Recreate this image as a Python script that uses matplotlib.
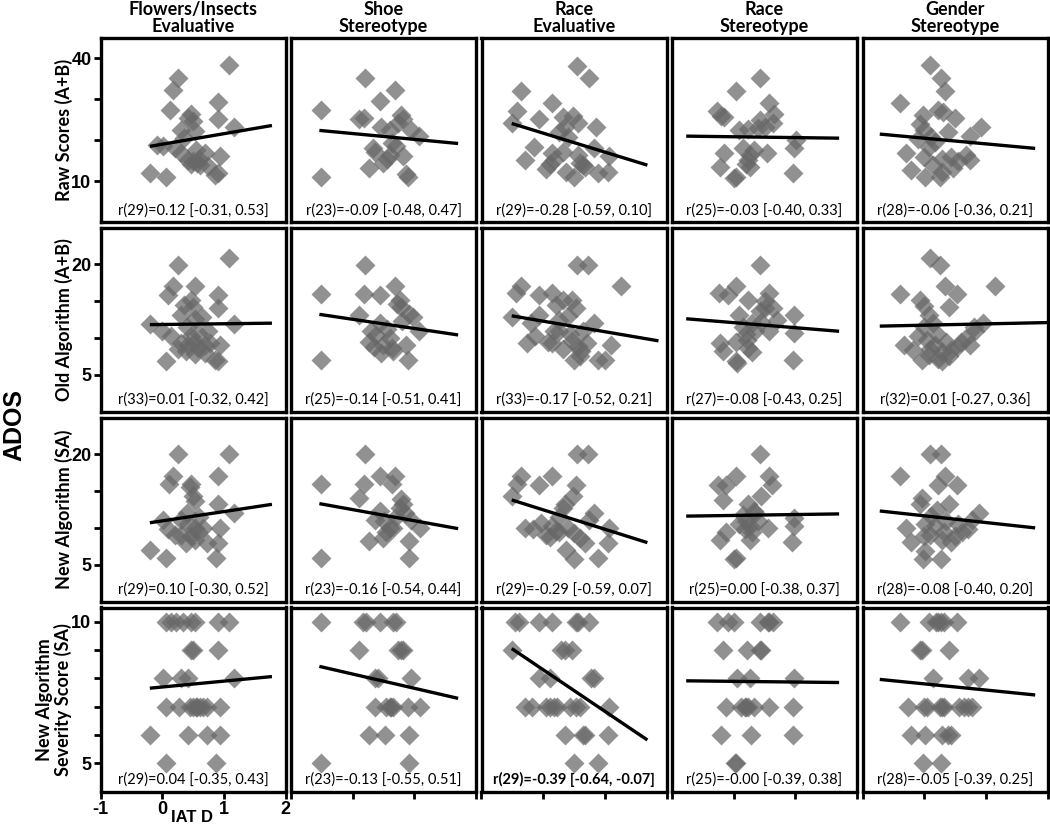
import matplotlib
matplotlib.use("Agg")
import matplotlib.pyplot as plt

plt.rcParams["axes.unicode_minus"] = False

# ── labels ──────────────────────────────────────────────────────────────────
COLS = ["Flowers/Insects\nEvaluative", "Shoe\nStereotype", "Race\nEvaluative",
        "Race\nStereotype", "Gender\nStereotype"]
ROWS = ["Raw Scores (A+B)", "Old Algorithm (A+B)", "New Algorithm (SA)",
        "New Algorithm\nSeverity Score (SA)"]

STATS = [
    ["r(29)=0.12 [-0.31, 0.53]", "r(23)=-0.09 [-0.48, 0.47]", "r(29)=-0.28 [-0.59, 0.10]",
     "r(25)=-0.03 [-0.40, 0.33]", "r(28)=-0.06 [-0.36, 0.21]"],
    ["r(33)=0.01 [-0.32, 0.42]", "r(25)=-0.14 [-0.51, 0.41]", "r(33)=-0.17 [-0.52, 0.21]",
     "r(27)=-0.08 [-0.43, 0.25]", "r(32)=0.01 [-0.27, 0.36]"],
    ["r(29)=0.10 [-0.30, 0.52]", "r(23)=-0.16 [-0.54, 0.44]", "r(29)=-0.29 [-0.59, 0.07]",
     "r(25)=0.00 [-0.38, 0.37]", "r(28)=-0.08 [-0.40, 0.20]"],
    ["r(29)=0.04 [-0.35, 0.43]", "r(23)=-0.13 [-0.55, 0.51]", "r(29)=-0.39 [-0.64, -0.07]",
     "r(25)=-0.00 [-0.39, 0.38]", "r(28)=-0.05 [-0.39, 0.25]"],
]
SIGNIF = [(3, 2)]  # bold stat label

Y_LIMS = [(0, 45), (0, 25), (0, 25), (4, 10.5)]
Y_TICKS = [[10, 20, 30, 40], [5, 10, 15, 20], [5, 10, 15, 20], [5, 6, 7, 8, 9, 10]]
Y_TICKLABELS = [["10", "", "", "40"], ["5", "", "", "20"], ["5", "", "", "20"],
                ["5", "", "", "", "", "10"]]
X_TICKS = [-1, 0, 1, 2]

# ── data: IAT D (x) vs ADOS score (y), one list per task ────────────────────
RAW_X = [
    [1.09, 0.26, 0.18, 0.13, 0.91, 0.47, 0.50, 0.42, 0.91, 1.17, 0.31, 0.53, 0.01, -0.09, 0.20, 0.31,
     0.69, 0.93, 0.42, 0.50, 0.60, 0.47, 0.57, 0.75, -0.20, 0.07, 0.85, 0.90, 0.55, 0.62, 0.35],
    [-0.51, -0.52, 0.20, 0.69, 0.44, 0.18, 0.11, 0.46, 0.78, 0.73, 0.82, 0.95, 1.08, 0.60, 0.33, 0.37,
     0.63, 0.60, 0.82, 0.49, 0.27, 0.87, 0.90, 0.71, 0.55],
    [0.55, 0.74, -0.36, 0.15, -0.42, -0.51, -0.07, 0.32, 0.49, 0.56, 0.86, 0.35, 0.26, 0.41, -0.15, -0.29,
     0.14, 0.17, 0.11, 0.32, 0.56, 0.59, 0.65, 0.83, 1.07, 0.37, 0.50, 0.89, 1.05, 0.68, 0.04],
    [0.43, 0.04, 0.58, -0.27, -0.15, 0.42, 0.63, 0.51, 0.24, 0.09, 1.01, 0.98, 0.15, 0.27, 0.24, 0.54,
     -0.15, -0.22, 0.27, 0.03, 0.00, 0.97, 0.39, -0.21, 0.33, 0.20, 0.66],
    [0.10, 0.27, 0.33, -0.40, -0.02, 0.23, 0.50, 0.92, -0.06, -0.01, 0.11, 0.38, 0.74, -0.30, 0.08, -0.01,
     0.29, 0.44, 0.68, 0.74, -0.21, 0.02, 0.29, 0.26, 0.47, 0.14, 0.55, 0.17, -0.10, 0.30],
]
RAW_Y = [
    [38.4, 35.3, 32.3, 27.4, 29.3, 26.3, 24.7, 25.5, 25.2, 23.3, 22.6, 22.2, 18.5, 18.8, 18.0, 16.9,
     16.9, 16.2, 15.2, 15.0, 15.3, 14.3, 14.5, 13.6, 12.1, 11.1, 11.6, 12.0, 17.5, 13.9, 20.5],
    [27.3, 11.1, 35.3, 32.3, 29.6, 25.5, 25.1, 23.2, 26.1, 24.3, 25.1, 22.6, 21.1, 22.6, 18.1, 17.0,
     19.3, 16.5, 16.1, 14.4, 13.2, 11.8, 11.1, 18.5, 15.5],
    [38.2, 35.2, 32.1, 29.2, 27.2, 24.1, 25.1, 25.6, 25.9, 24.1, 23.2, 23.3, 22.1, 20.9, 18.3, 15.1,
     16.8, 15.1, 14.3, 17.2, 16.4, 14.5, 13.9, 18.0, 16.1, 12.3, 11.0, 11.9, 12.3, 13.5, 13.0],
    [35.2, 32.1, 29.2, 27.2, 25.6, 25.0, 24.3, 23.3, 22.7, 22.5, 20.1, 18.0, 18.0, 16.4, 15.1, 16.8,
     16.8, 13.5, 13.5, 11.1, 10.7, 12.0, 22.9, 26.0, 17.5, 14.3, 26.4],
    [38.5, 35.2, 32.1, 29.2, 26.2, 27.4, 25.4, 23.3, 24.0, 22.5, 20.9, 22.1, 21.0, 16.9, 18.4, 15.9,
     15.5, 15.9, 16.4, 15.1, 12.7, 11.1, 12.3, 11.1, 13.1, 14.0, 15.0, 19.5, 20.2, 27.0],
]

OLD_X = [
    [1.09, 0.26, 0.18, 0.09, 0.53, 0.47, 0.50, 0.91, 0.90, -0.20, -0.01, 0.31, 0.53, 0.64, 1.17, 0.15,
     0.31, 0.42, 0.53, 0.58, 0.69, 0.77, 0.93, 0.39, 0.53, 0.69, 0.07, 0.85, 0.91, 0.47, 0.40, 0.25,
     0.60, 0.35, 0.75],
    [0.20, -0.51, -0.52, 0.18, 0.44, 0.69, 0.76, 0.79, 0.92, 0.98, 1.08, 0.11, 0.44, 0.30, 0.38, 0.60,
     0.49, 0.63, 0.27, 0.87, 0.46, 0.90, 0.65, 0.72, 0.55, 0.80, 0.35],
    [0.55, 0.73, -0.36, -0.44, -0.07, 0.15, 0.32, 0.47, 0.53, 1.26, -0.51, -0.07, -0.27, -0.13, 0.17, 0.14,
     0.26, 0.43, 0.47, 0.56, 0.62, 0.71, 0.83, 1.10, 0.50, 0.89, 1.01, 0.32, 0.08, 0.25, 0.40, 0.65,
     -0.20, 0.60, 0.20],
    [0.43, 0.04, -0.24, -0.09, 0.57, 0.24, 0.51, 0.42, 0.64, 0.98, 0.09, 0.30, 0.45, 0.57, 0.98, -0.22,
     0.03, 0.21, 0.24, 0.30, -0.18, 0.03, 0.97, 0.06, 0.35, 0.15, 0.70, 0.20, 0.50],
    [0.10, 0.26, -0.40, 1.15, 0.33, 0.53, -0.06, 0.00, 0.08, 0.41, 0.95, 0.83, 0.68, -0.33, -0.10, 0.05,
     0.17, 0.29, 0.44, 0.53, 0.74, -0.04, 0.29, -0.18, 0.23, 0.08, 0.00, 0.15, 0.60, 0.35, 0.20, 0.40,
     0.80, 0.10],
]
OLD_Y = [
    [20.8, 19.9, 17.0, 15.8, 17.0, 15.1, 14.2, 15.8, 14.0, 11.9, 10.9, 13.1, 12.6, 12.8, 11.9, 10.2,
     9.3, 9.1, 9.5, 8.6, 9.1, 9.3, 9.0, 8.2, 7.8, 8.0, 6.8, 7.0, 6.8, 10.2, 11.5, 8.5,
     10.5, 14.5, 11.0],
    [19.9, 15.9, 7.0, 15.9, 15.8, 17.0, 15.1, 14.2, 13.3, 12.9, 10.9, 13.1, 12.0, 10.9, 10.4, 10.0,
     9.1, 8.6, 9.5, 9.0, 7.9, 7.0, 8.2, 14.6, 11.2, 12.3, 8.7],
    [19.9, 19.9, 17.0, 16.1, 15.8, 16.1, 15.2, 15.2, 14.0, 17.0, 12.9, 13.1, 9.3, 10.2, 10.9, 9.3,
     10.9, 10.5, 9.6, 8.9, 8.2, 9.3, 12.0, 9.0, 7.0, 7.0, 7.0, 8.5, 9.5, 12.5, 13.0, 11.0,
     12.0, 7.5, 14.5],
    [19.9, 17.0, 16.1, 15.8, 16.1, 15.2, 14.0, 13.6, 14.0, 13.1, 13.1, 12.0, 12.2, 10.9, 10.6, 9.3,
     9.5, 9.7, 8.6, 8.1, 8.2, 6.8, 7.0, 6.6, 11.0, 11.5, 12.5, 10.5, 15.0],
    [20.8, 19.9, 15.9, 17.0, 17.0, 15.9, 15.2, 14.3, 13.1, 14.2, 12.0, 10.9, 10.0, 9.0, 10.2, 9.7,
     9.0, 8.1, 8.3, 8.7, 9.0, 7.0, 6.8, 8.3, 7.2, 7.7, 11.5, 12.0, 9.5, 9.5, 10.5, 7.5,
     11.5, 8.5],
]

NEW_X = [
    [0.26, 1.09, 0.18, 0.11, 0.47, 0.91, 0.50, 0.53, 0.91, 1.17, 0.01, 0.09, 0.31, 0.42, 0.53, 0.58,
     0.66, 0.31, 0.47, 0.53, 0.72, 0.93, 0.91, -0.20, 0.07, 0.88, 0.39, 0.40, 0.60, 0.20, 0.45],
    [0.20, -0.51, -0.52, 0.44, 0.69, 0.64, 0.18, 0.11, 0.79, 0.82, 0.76, 0.44, 0.36, 0.95, 1.09, 0.60,
     0.54, 0.65, 0.49, 0.27, 0.92, 0.91, 0.70, 0.50, 0.85],
    [0.55, 0.73, -0.36, -0.42, 0.15, -0.07, 0.54, -0.51, 0.48, 0.35, 0.32, 0.83, 0.74, -0.29, -0.17, -0.04,
     0.14, 0.20, 0.11, 0.26, 0.50, 0.59, 0.68, 1.07, 1.05, 0.37, 0.50, 0.89, 0.25, 0.40, 0.05],
    [0.43, 0.04, 0.57, 0.62, -0.26, -0.12, -0.18, 0.45, 0.24, 0.33, 0.15, 0.98, 0.98, 0.09, 0.18, 0.27,
     0.55, -0.12, -0.22, 0.30, 0.27, 0.95, 0.03, 0.00, 0.35, 0.40, 0.20],
    [0.10, 0.27, -0.40, 0.33, 0.53, 0.23, -0.04, -0.07, 0.41, 0.89, 0.77, 0.11, 0.02, -0.30, 0.17, 0.32,
     0.50, 0.62, 0.71, -0.21, 0.00, 0.29, 0.44, 0.01, -0.02, 0.27, 0.20, 0.55, 0.10, 0.35],
]
NEW_Y = [
    [20.0, 20.0, 17.0, 15.9, 16.0, 17.0, 14.3, 13.6, 13.2, 12.0, 11.1, 9.9, 11.1, 10.5, 10.0, 9.5,
     10.0, 9.1, 8.9, 8.4, 8.0, 10.0, 8.0, 7.0, 5.9, 5.9, 8.0, 12.0, 11.5, 9.0, 15.5],
    [20.0, 16.0, 5.9, 17.0, 17.0, 15.9, 15.9, 14.1, 13.9, 13.2, 12.7, 12.3, 11.1, 11.1, 10.0, 10.0,
     9.5, 10.0, 8.6, 8.2, 8.2, 5.9, 11.5, 11.0, 12.0],
    [20.0, 20.0, 17.0, 16.0, 17.0, 15.8, 15.8, 14.3, 14.3, 13.2, 12.7, 12.0, 11.1, 10.0, 9.8, 10.7,
     10.2, 9.6, 8.8, 9.5, 9.3, 8.6, 8.0, 10.0, 8.0, 7.0, 5.8, 5.9, 11.5, 10.0, 9.0],
    [20.0, 17.0, 17.0, 15.8, 15.8, 15.8, 13.8, 14.3, 13.2, 12.3, 11.8, 11.4, 10.2, 10.5, 9.8, 10.3,
     10.0, 9.4, 8.3, 9.4, 8.3, 8.1, 5.9, 5.8, 12.0, 11.0, 11.0],
    [20.0, 20.0, 17.0, 17.0, 15.8, 15.8, 14.0, 13.2, 13.2, 12.0, 11.1, 11.6, 10.5, 10.0, 10.2, 9.5,
     8.9, 9.4, 9.9, 8.1, 8.9, 8.3, 8.1, 6.8, 5.8, 5.8, 12.5, 10.5, 9.0, 11.0],
]

SEV_X = [
    [0.07, 0.15, 0.23, 0.34, 0.47, 0.53, 0.91, 1.09, 0.47, 0.50, 0.91, 0.01, 0.31, 0.42, 1.17,
     0.07, 0.28, 0.45, 0.50, 0.55, 0.56, 0.61, 0.66, 0.72, 0.93, -0.20, 0.42, 0.72, 0.93, 0.07, 0.88],
    [-0.52, 0.17, 0.22, 0.44, 0.65, 0.71, 0.11, 0.73, 0.79, 0.82, 0.36, 0.41, 0.95,
     0.36, 0.54, 0.60, 0.62, 0.65, 0.90, 1.09, 0.27, 0.52, 0.92, -0.52, 0.91],
    [-0.45, -0.39, -0.07, 0.15, 0.53, 0.57, 0.74, -0.51, 0.29, 0.35, 0.47, -0.07, 0.11, 0.77, 0.83,
     -0.30, -0.18, 0.05, 0.11, 0.17, 0.23, 0.44, 0.53, 0.59, 1.07, 0.35, 0.65, 0.68, 1.05, 0.50, 0.89],
    [-0.27, -0.09, 0.00, 0.42, 0.55, 0.57, 0.63, -0.18, 0.21, 0.43, 0.44, 0.06, 0.27, 0.98,
     -0.12, 0.12, 0.18, 0.20, 0.24, 0.33, 0.57, 0.97, -0.21, 0.28, 0.96, 0.02, 0.04],
    [-0.40, 0.08, 0.19, 0.23, 0.27, 0.32, 0.53, -0.07, -0.04, 0.41, 0.14, 0.71, 0.89,
     -0.27, -0.01, 0.05, 0.25, 0.29, 0.32, 0.56, 0.65, 0.71, 0.77, -0.21, 0.02, 0.29, 0.38, 0.44,
     -0.02, 0.27],
]
SEV_Y = [
    [10, 10, 10, 10, 10, 10, 10, 10, 9, 9, 9, 8, 8, 8, 8,
     7, 7, 7, 7, 7, 7, 7, 7, 7, 7, 6, 6, 6, 6, 5, 5],
    [10, 10, 10, 10, 10, 10, 9, 9, 9, 9, 8, 8, 8,
     7, 7, 7, 7, 7, 7, 7, 6, 6, 6, 5, 5],
    [10, 10, 10, 10, 10, 10, 10, 9, 9, 9, 9, 8, 8, 8, 8,
     7, 7, 7, 7, 7, 7, 7, 7, 7, 7, 6, 6, 6, 6, 5, 5],
    [10, 10, 10, 10, 10, 10, 10, 9, 9, 9, 9, 8, 8, 8,
     7, 7, 7, 7, 7, 7, 7, 7, 6, 6, 6, 5, 5],
    [10, 10, 10, 10, 10, 10, 10, 9, 9, 9, 8, 8, 8,
     7, 7, 7, 7, 7, 7, 7, 7, 7, 7, 6, 6, 6, 6, 6,
     5, 5],
]

# fitted regression line ends per task: (x0, y0, x1, y1)
RAW_FIT = [(-0.20, 18.5, 1.78, 23.6), (-0.54, 22.4, 1.71, 19.2), (-0.51, 24.1, 1.69, 13.9),
           (-0.77, 21.0, 1.71, 20.5), (-0.72, 21.5, 1.80, 18.0)]
OLD_FIT = [(-0.20, 11.8, 1.78, 12.0), (-0.54, 13.2, 1.71, 10.4), (-0.51, 13.0, 1.87, 9.6),
           (-0.77, 12.6, 1.71, 10.9), (-0.72, 11.6, 2.10, 12.1)]
NEW_FIT = [(-0.20, 10.7, 1.78, 13.2), (-0.54, 13.3, 1.71, 9.9), (-0.51, 13.8, 1.69, 8.0),
           (-0.77, 11.6, 1.71, 11.9), (-0.72, 12.3, 1.80, 10.0)]
SEV_FIT = [(-0.20, 7.65, 1.78, 8.06), (-0.54, 8.42, 1.71, 7.29), (-0.51, 9.05, 1.69, 5.82),
           (-0.77, 7.91, 1.71, 7.85), (-0.72, 7.96, 1.80, 7.41)]

XS = [RAW_X, OLD_X, NEW_X, SEV_X]
YS = [RAW_Y, OLD_Y, NEW_Y, SEV_Y]
FITS = [RAW_FIT, OLD_FIT, NEW_FIT, SEV_FIT]

# ── layout (pixels of the 1050x825 canvas) ─────────────────────────────────
W, H = 1050, 825
LEFTS = [100.5, 291, 481.5, 672, 862.5]
TOPS = [38, 227.5, 417.5, 607.5]
PW, PH = 185, 184
MARK = "#686868"
TXT = "Lato"
TICKF = "Liberation Sans"

fig = plt.figure(figsize=(W / 100, H / 100), dpi=100)
fig.patch.set_facecolor("white")

for r in range(4):
    for c in range(5):
        ax = fig.add_axes([LEFTS[c] / W, 1 - (TOPS[r] + PH) / H, PW / W, PH / H])
        ax.plot(XS[r][c], YS[r][c], linestyle="none", marker="D", ms=10.5,
                color=MARK, alpha=0.73, mec="none")
        x0, y0, x1, y1 = FITS[r][c]
        ax.plot([x0, x1], [y0, y1], color="black", lw=2.4, solid_capstyle="butt")
        ax.set_xlim(-1, 2)
        ax.set_ylim(*Y_LIMS[r])
        for s in ax.spines.values():
            s.set_linewidth(2.4)
            s.set_color("black")
        ax.tick_params(direction="out", length=5, width=2, pad=1.5)
        if c == 0:
            ax.set_yticks(Y_TICKS[r])
            ax.set_yticklabels(Y_TICKLABELS[r])
        else:
            ax.set_yticks([])
        if r == 3:
            ax.set_xticks(X_TICKS)
            if c == 0:
                ax.set_xticklabels([str(t) for t in X_TICKS])
            else:
                ax.set_xticklabels([])
        else:
            ax.set_xticks([])
        for lbl in ax.get_xticklabels() + ax.get_yticklabels():
            lbl.set_fontfamily(TICKF)
            lbl.set_fontweight("bold")
            lbl.set_fontsize(13)
        ax.text(0.5, 0.025, STATS[r][c], transform=ax.transAxes, ha="center", va="bottom",
                fontsize=10.5, family=TXT,
                fontweight="bold" if (r, c) in SIGNIF else "normal")

# column headers
for c, name in enumerate(COLS):
    fig.text((LEFTS[c] + PW / 2) / W, 1 - 18 / H, name, ha="center", va="center",
             fontsize=13, fontweight="bold", family=TXT, linespacing=1.0)

# row headers
for r, name in enumerate(ROWS):
    xc = 64 if "\n" not in name else 54
    fig.text(xc / W, 1 - (TOPS[r] + PH / 2) / H, name, rotation=90, ha="center", va="center",
             fontsize=13, fontweight="bold", family=TXT, linespacing=1.0)

fig.text(14 / W, 1 - 425 / H, "ADOS", rotation=90, ha="center", va="center",
         fontsize=18, fontweight="bold", family=TICKF)
fig.text(192 / W, 0.5 / H, "IAT D", ha="center", va="bottom",
         fontsize=12, fontweight="bold", family=TICKF)

fig.savefig("out.png", dpi=100, facecolor="white")
